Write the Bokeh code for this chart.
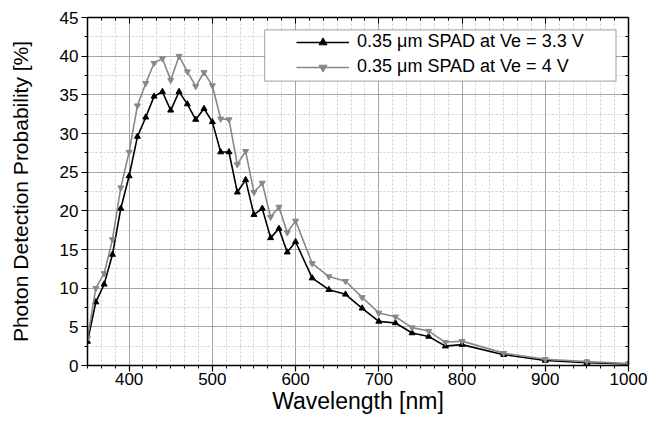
from bokeh.plotting import figure
from bokeh.models import (Range1d, LinearAxis, SingleIntervalTicker, Legend, LegendItem,
                          BoxAnnotation, CustomJSTickFormatter)
from bokeh.embed import file_html
from bokeh.resources import INLINE

wavelength = [350, 360, 370, 380, 390, 400, 410, 420, 430, 440, 450, 460, 470, 480, 490,
              500, 510, 520, 530, 540, 550, 560, 570, 580, 590, 600, 620, 640, 660, 680,
              700, 720, 740, 760, 780, 800, 850, 900, 950, 1000]
pdp_33 = [3.1, 8.2, 10.5, 14.35, 20.3, 24.5, 29.6, 32.1, 34.8, 35.4, 33.0, 35.4, 33.8, 31.8, 33.2,
          31.5, 27.6, 27.6, 22.4, 24.0, 19.5, 20.3, 16.5, 17.7, 14.65, 16.0, 11.3, 9.8, 9.2, 7.4,
          5.7, 5.5, 4.2, 3.75, 2.5, 2.7, 1.4, 0.65, 0.35, 0.2]
pdp_4 = [3.5, 10.0, 11.9, 16.3, 23.0, 27.6, 33.6, 36.5, 39.1, 39.7, 36.9, 40.0, 38.0, 36.1, 37.9,
         36.2, 31.9, 31.8, 26.0, 27.7, 22.4, 23.6, 19.2, 20.5, 17.2, 18.7, 13.2, 11.5, 10.9, 8.8,
         6.8, 6.3, 4.9, 4.45, 3.0, 3.15, 1.6, 0.8, 0.5, 0.25]
labels = ["0.35 \u03bcm SPAD at Ve = 3.3 V", "0.35 \u03bcm SPAD at Ve = 4 V"]

FONT = "Liberation Sans"

p = figure(width=661, height=423, output_backend="svg", toolbar_location=None,
           x_range=Range1d(350, 1000), y_range=Range1d(0, 45),
           min_border_left=87, min_border_right=33, min_border_top=17, min_border_bottom=58)
p.outline_line_color = None
p.background_fill_color = "white"

xt = SingleIntervalTicker(interval=100, num_minor_ticks=6)
yt = SingleIntervalTicker(interval=5, num_minor_ticks=2)

p.xaxis.ticker = xt
p.yaxis.ticker = yt
p.xaxis.axis_label = "Wavelength [nm]"
p.yaxis.axis_label = "Photon Detection Probability [%]"

for ax in (p.xaxis[0], p.yaxis[0]):
    ax.axis_line_color = "black"
    ax.axis_line_width = 1.5
    ax.major_tick_line_color = "black"
    ax.minor_tick_line_color = "black"
    ax.major_tick_line_width = 1.2
    ax.minor_tick_line_width = 1.0
    ax.major_tick_out = 6
    ax.major_tick_in = 0
    ax.minor_tick_out = 3
    ax.minor_tick_in = 0
    ax.major_label_text_font = FONT
    ax.major_label_text_font_size = "17px"
    ax.major_label_text_color = "black"
    ax.axis_label_text_font = FONT
    ax.axis_label_text_font_style = "normal"
    ax.axis_label_text_color = "black"
p.xaxis.axis_label_text_font_size = "23px"
p.yaxis.axis_label_text_font_size = "21px"
p.xaxis.major_label_standoff = 1
p.xaxis.axis_label_standoff = 0
p.yaxis.major_label_standoff = 3
p.yaxis.axis_label_standoff = 25

for loc, tk in (("above", xt), ("right", yt)):
    ax = LinearAxis(ticker=tk, formatter=CustomJSTickFormatter(code="return ''"))
    ax.axis_line_color = "black"
    ax.axis_line_width = 1.5
    ax.major_tick_line_color = "black"
    ax.minor_tick_line_color = "black"
    ax.major_tick_in = 6
    ax.major_tick_out = 0
    ax.minor_tick_in = 3
    ax.minor_tick_out = 0
    ax.major_label_standoff = 0
    p.add_layout(ax, loc)

for g, tk in ((p.xgrid[0], xt), (p.ygrid[0], yt)):
    g.ticker = tk
    g.grid_line_color = "#a6a6a6"
    g.grid_line_width = 1
    g.minor_grid_line_color = "#cfcfcf"
    g.minor_grid_line_dash = "2 2"
    g.minor_grid_line_width = 1

l1 = p.line(wavelength, pdp_33, line_color="black", line_width=1.6)
s1 = p.scatter(wavelength, pdp_33, marker="triangle", size=6, fill_color="black",
               line_color="black")
l2 = p.line(wavelength, pdp_4, line_color="#888888", line_width=1.6)
s2 = p.scatter(wavelength, pdp_4, marker="inverted_triangle", size=6, fill_color="#888888",
               line_color="#888888")

box = BoxAnnotation(left=562.8, right=985.0, top=43.41, bottom=36.76,
                    fill_color="white", fill_alpha=1.0, line_color="black", line_width=1.2)
p.add_layout(box)

legend = Legend(items=[LegendItem(label=labels[0], renderers=[l1, s1]),
                       LegendItem(label=labels[1], renderers=[l2, s2])],
                location=(205, 284), padding=4, spacing=4, glyph_width=53, glyph_height=20,
                label_height=20, label_standoff=8, border_line_alpha=0,
                background_fill_alpha=0, label_text_font=FONT,
                label_text_font_size="18px", label_text_color="black")
p.add_layout(legend, "center")

open("out.html", "w").write(file_html(p, INLINE))
